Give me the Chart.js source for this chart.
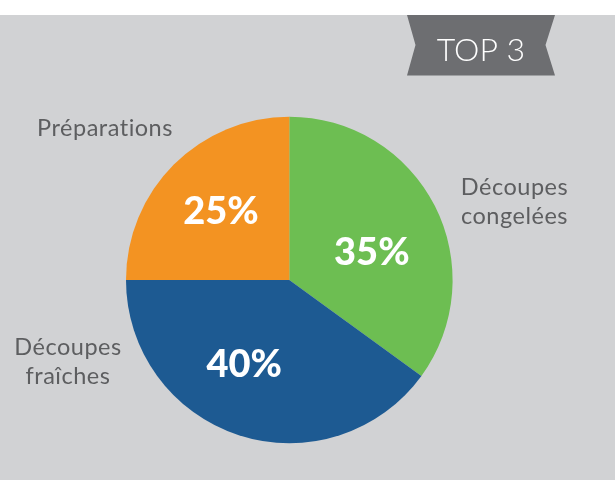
<!DOCTYPE html>
<html>
<head>
    <title>Top 3</title>
    <script src="https://cdn.jsdelivr.net/npm/chart.js"></script>
    <style>
        body { margin: 0; background: #ffffff; }
    </style>
</head>
<body>
    <canvas id="topChart" width="615" height="480"></canvas>

    <script>
        // Données du graphique
        var categories = [['Découpes', 'congelées'], ['Découpes', 'fraîches'], ['Préparations']];
        var valeurs = [35, 40, 25];
        var couleurs = ['#6dbe52', '#1d5a92', '#f39322'];
        var titre = 'TOP 3';

        // Position des textes (styles, pas des données)
        var posCategories = [
            { x: 514.5, y: 187.5, align: 'center' },
            { x: 68, y: 347.5, align: 'center' },
            { x: 105, y: 128.5, align: 'center' }
        ];
        var decalAngle = [7.8, 10.2, 0.4];   // degrés
        var rayonPct = [0.535, 0.584, 0.596];

        var fondPlugin = {
            id: 'fond',
            beforeDraw: function (chart) {
                var ctx = chart.ctx;
                ctx.save();
                ctx.fillStyle = '#ffffff';
                ctx.fillRect(0, 0, chart.width, chart.height);
                ctx.fillStyle = '#d1d2d4';
                ctx.fillRect(0, 15, chart.width, chart.height - 15);

                // bandeau TOP 3
                ctx.fillStyle = '#6d6e71';
                ctx.beginPath();
                ctx.moveTo(407, 15);
                ctx.lineTo(555, 15);
                ctx.lineTo(545.5, 45);
                ctx.lineTo(555, 75.5);
                ctx.lineTo(407, 75.5);
                ctx.lineTo(415.5, 45);
                ctx.closePath();
                ctx.fill();
                ctx.fillStyle = '#ffffff';
                ctx.font = '300 32px Lato';
                ctx.textAlign = 'center';
                ctx.textBaseline = 'middle';
                ctx.fillText(titre, 481, 51);
                ctx.restore();
            },
            afterDatasetsDraw: function (chart) {
                var ctx = chart.ctx;
                var meta = chart.getDatasetMeta(0);
                ctx.save();
                ctx.textBaseline = 'middle';

                // libellés des catégories
                ctx.fillStyle = '#5d5e60';
                ctx.font = '400 23.5px Lato';
                ctx.letterSpacing = '0.5px';
                categories.forEach(function (lignes, i) {
                    var p = posCategories[i];
                    ctx.textAlign = p.align;
                    lignes.forEach(function (ligne, j) {
                        ctx.fillText(ligne, p.x, p.y + j * 29);
                    });
                });

                // pourcentages
                var total = valeurs.reduce(function (a, b) { return a + b; }, 0);
                ctx.letterSpacing = '0px';
                ctx.fillStyle = '#ffffff';
                ctx.font = '900 38px Lato';
                ctx.textAlign = 'center';
                meta.data.forEach(function (arc, i) {
                    var a = (arc.startAngle + arc.endAngle) / 2 + decalAngle[i] * Math.PI / 180;
                    var r = arc.outerRadius * rayonPct[i];
                    var x = arc.x + Math.cos(a) * r;
                    var y = arc.y + Math.sin(a) * r;
                    ctx.fillText(Math.round(valeurs[i] / total * 100) + '%', x, y + 1);
                });
                ctx.restore();
            }
        };

        var ctx = document.getElementById('topChart').getContext('2d');
        var chart = new Chart(ctx, {
            type: 'pie',
            data: {
                labels: categories.map(function (c) { return c.join(' '); }),
                datasets: [{
                    data: valeurs,
                    backgroundColor: couleurs,
                    borderWidth: 0
                }]
            },
            options: {
                responsive: false,
                animation: false,
                layout: {
                    padding: { top: 116.7, bottom: 36.7, left: 126, right: 162.4 }
                },
                plugins: {
                    legend: { display: false },
                    tooltip: { enabled: false }
                }
            },
            plugins: [fondPlugin]
        });
    </script>
</body>
</html>
